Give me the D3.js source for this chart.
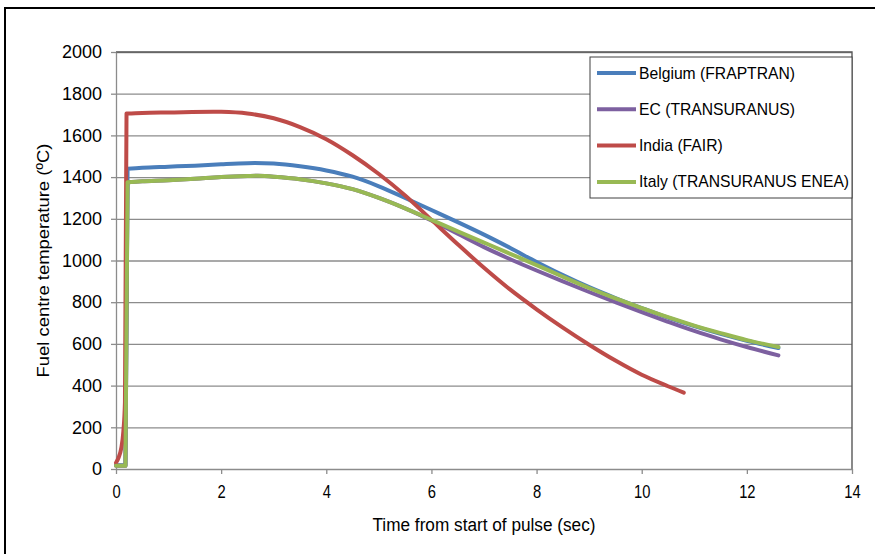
<!DOCTYPE html>
<html>
<head>
<meta charset="utf-8">
<script src="https://cdn.jsdelivr.net/npm/d3@7"></script>
<style>
  body { margin: 0; background: #fff; }
  svg { display: block; }
  .tick text { fill: #000; }
</style>
</head>
<body>
<svg id="chart" width="875" height="554"></svg>
<script>
"use strict";

// series names and colours (Excel 2007 defaults)
const seriesNames = ["Belgium (FRAPTRAN)", "EC (TRANSURANUS)", "India (FAIR)", "Italy (TRANSURANUS ENEA)"];
const seriesColors = ["#4a7ebb", "#7d60a0", "#be4b48", "#98b954"];

// [time (sec), fuel centre temperature (ºC)]
const belgium = [[0, 18], [0.18, 18], [0.22, 1440], [0.5, 1445], [1, 1450], [1.5, 1455], [2, 1462],
  [2.5, 1467], [3, 1465], [3.5, 1452], [4, 1432], [4.5, 1402], [5, 1356], [5.5, 1300], [6, 1242],
  [6.5, 1184], [7, 1124], [7.5, 1060], [8, 993], [8.5, 930], [9, 872], [9.5, 820], [10, 772],
  [10.5, 726], [11, 685], [11.5, 648], [12, 615], [12.6, 580]];
const ec = [[0, 15], [0.18, 15], [0.22, 1375], [0.5, 1380], [1, 1385], [1.5, 1392], [2, 1400],
  [2.5, 1405], [2.7, 1406], [3, 1402], [3.5, 1390], [4, 1370], [4.5, 1342], [5, 1300], [5.5, 1250],
  [6, 1192], [6.5, 1128], [7, 1064], [7.5, 1006], [8, 952], [8.5, 900], [9, 849], [9.5, 800],
  [10, 752], [10.5, 706], [11, 662], [11.5, 622], [12, 585], [12.6, 545]];
const india = [[0, 30], [0.05, 55], [0.1, 100], [0.14, 180], [0.17, 320], [0.2, 1705], [0.5, 1708],
  [1, 1710], [2, 1713], [2.5, 1705], [3, 1682], [3.5, 1640], [4, 1582], [4.5, 1505], [5, 1415],
  [5.5, 1312], [6, 1195], [6.5, 1078], [7, 965], [7.5, 860], [8, 766], [8.5, 678], [9, 596],
  [9.5, 520], [10, 452], [10.5, 397], [10.8, 366]];
const italy = [[0, 15], [0.18, 15], [0.22, 1375], [0.5, 1380], [1, 1385], [1.5, 1392], [2, 1400],
  [2.5, 1405], [2.7, 1406], [3, 1402], [3.5, 1390], [4, 1370], [4.5, 1342], [5, 1300], [5.5, 1250],
  [6, 1195], [6.5, 1140], [7, 1086], [7.5, 1032], [8, 978], [8.5, 922], [9, 868], [9.5, 818],
  [10, 772], [10.5, 728], [11, 688], [11.5, 652], [12, 618], [12.6, 585]];

const xTicks = [0, 2, 4, 6, 8, 10, 12, 14];
const yTicks = [0, 200, 400, 600, 800, 1000, 1200, 1400, 1600, 1800, 2000];

const plotLeft = 116;
const plotRight = 852;
const plotTop = 52;
const plotBottom = 469;

const svg = d3.select("#chart");

// outer frame
svg.append("rect")
  .attr("x", 5).attr("y", 8)
  .attr("width", 900).attr("height", 600)
  .attr("fill", "#fff")
  .attr("stroke", "#000")
  .attr("stroke-width", 2);

const x = d3.scaleLinear().domain([0, 14]).range([plotLeft, plotRight]);
const y = d3.scaleLinear().domain([0, 2000]).range([plotBottom, plotTop]);

// grid lines
svg.append("g")
  .attr("transform", `translate(${plotLeft},0)`)
  .call(d3.axisLeft(y).tickValues(yTicks.slice(1)).tickSize(-(plotRight - plotLeft)).tickFormat(""))
  .call((g) => g.select(".domain").remove())
  .call((g) => g.selectAll("line").attr("stroke", "#8c8c8c").attr("stroke-width", 1.3));

// plot area right/top edge
svg.append("path")
  .attr("d", `M${plotLeft},${plotTop}H${plotRight}V${plotBottom}`)
  .attr("fill", "none")
  .attr("stroke", "#595959")
  .attr("stroke-width", 1.4);

// y axis
const yAxis = svg.append("g")
  .attr("transform", `translate(${plotLeft},0)`)
  .call(d3.axisLeft(y).tickValues(yTicks).tickFormat(d3.format("d"))
    .tickSize(5).tickPadding(9).tickSizeOuter(0));
yAxis.select(".domain").attr("stroke", "#8c8c8c").attr("stroke-width", 1.3);
yAxis.selectAll(".tick line").attr("stroke", "#8c8c8c").attr("stroke-width", 1.3);
yAxis.selectAll(".tick text")
  .attr("font-family", "'Liberation Sans', Arial, sans-serif")
  .attr("font-size", 18);

// x axis (labels look squeezed in the picture)
const xAxis = svg.append("g")
  .attr("transform", `translate(0,${plotBottom})`)
  .call(d3.axisBottom(x).tickValues(xTicks).tickSize(5).tickPadding(11).tickSizeOuter(0));
xAxis.select(".domain").attr("stroke", "#8c8c8c").attr("stroke-width", 1.3);
xAxis.selectAll(".tick line").attr("stroke", "#8c8c8c").attr("stroke-width", 1.3);
xAxis.selectAll(".tick text")
  .attr("font-family", "'Liberation Sans', Arial, sans-serif")
  .attr("font-size", 18)
  .attr("transform", "scale(0.82,1)");

// axis titles
svg.append("text")
  .attr("transform", `translate(49,${(plotTop + plotBottom) / 2}) rotate(-90)`)
  .attr("text-anchor", "middle")
  .attr("font-family", "'Liberation Sans', Arial, sans-serif")
  .attr("font-size", 17)
  .attr("textLength", 234)
  .attr("lengthAdjust", "spacingAndGlyphs")
  .text("Fuel centre temperature (ºC)");

svg.append("text")
  .attr("x", 484)
  .attr("y", 531)
  .attr("text-anchor", "middle")
  .attr("font-family", "'Liberation Sans', Arial, sans-serif")
  .attr("font-size", 18)
  .attr("textLength", 223)
  .attr("lengthAdjust", "spacingAndGlyphs")
  .text("Time from start of pulse (sec)");

// series lines: the start-up jump is drawn without overshoot,
// the rest of each curve is smoothed like Excel does
const riseLine = d3.line()
  .x((d) => x(d[0]))
  .y((d) => y(d[1]))
  .curve(d3.curveMonotoneX);
const smoothLine = d3.line()
  .x((d) => x(d[0]))
  .y((d) => y(d[1]))
  .curve(d3.curveCatmullRom.alpha(0.5));

function seriesPath(pts) {
  const k = pts.findIndex((p) => p[1] > 1000);
  return riseLine(pts.slice(0, k + 1)) + smoothLine(pts.slice(k));
}

const allSeries = [belgium, ec, india, italy];
svg.append("g")
  .selectAll("path")
  .data(allSeries)
  .join("path")
  .attr("d", seriesPath)
  .attr("fill", "none")
  .attr("stroke", (d, i) => seriesColors[i])
  .attr("stroke-width", 4)
  .attr("stroke-linejoin", "round")
  .attr("stroke-linecap", "round");

// legend
const legend = svg.append("g").attr("transform", "translate(590,57)");
legend.append("rect")
  .attr("width", 262).attr("height", 141)
  .attr("fill", "#fff")
  .attr("stroke", "#404040")
  .attr("stroke-width", 1);

const items = legend.selectAll("g.item")
  .data(seriesNames)
  .join("g")
  .attr("class", "item")
  .attr("transform", (d, i) => `translate(0,${16 + i * 36.3})`);

items.append("line")
  .attr("x1", 7).attr("x2", 46)
  .attr("stroke", (d, i) => seriesColors[i])
  .attr("stroke-width", 4);

items.append("text")
  .attr("x", 49)
  .attr("dy", "0.35em")
  .attr("font-family", "'Liberation Sans', Arial, sans-serif")
  .attr("font-size", 15.7)
  .text((d) => d);
</script>
</body>
</html>
